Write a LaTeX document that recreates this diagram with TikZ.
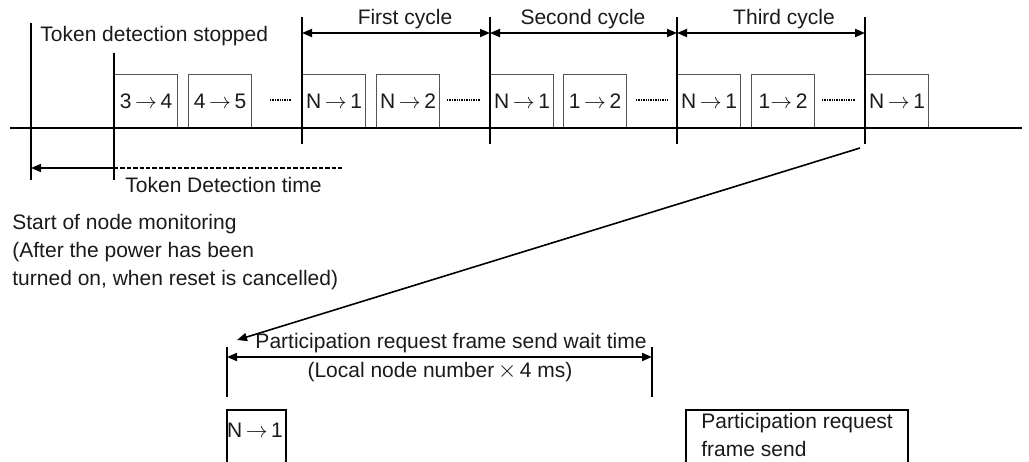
\documentclass[tikz,border=0pt]{standalone}
\usepackage{fontspec}
\setmainfont{Liberation Sans}
\usetikzlibrary{arrows.meta,positioning,calc}
\definecolor{ink}{HTML}{1A1A1A}
\definecolor{framegray}{HTML}{555555}
\tikzset{
  slotbox/.style={draw=framegray,line width=0.6pt,
                  minimum width=31.5pt,minimum height=26.5pt,
                  inner sep=0pt,anchor=south west,
                  font=\fontsize{10.5}{12}\selectfont,text=ink},
  tickline/.style={line width=1pt,draw=black},
  dimarr/.style={{Triangle[length=5pt,width=4pt]}-{Triangle[length=5pt,width=4pt]},line width=0.9pt},
  onearr/.style={-{Triangle[length=5pt,width=4pt]},line width=0.8pt},
  gapdots/.style={line width=0.7pt,dash pattern=on 0.7pt off 0.5pt},
  lbl/.style={font=\fontsize{10.5}{14}\selectfont,text=ink,inner sep=0pt}
}

\begin{document}
\begin{tikzpicture}[x=0.5pt,y=-0.5pt]
  \useasboundingbox (0,0) rectangle (1029,461);
  \clip (0,0) rectangle (1029,461);
  % ---- token frames on the line ----
  \foreach \px/\txt/\nm in {114/{3\,$\rightarrow$\,4}/b1, 188/{4\,$\rightarrow$\,5}/b2,
                            302/{N\,$\rightarrow$\,1}/b3, 376/{N\,$\rightarrow$\,2}/b4,
                            490/{N\,$\rightarrow$\,1}/b5, 563/{1\,$\rightarrow$\,2}/b6,
                            677/{N\,$\rightarrow$\,1}/b7, 751/{1$\rightarrow$\,2}/b8,
                            865/{N\,$\rightarrow$\,1}/b9}
    \node[slotbox] (\nm) at (\px,128) {\txt};
  \draw[tickline] (10,128) -- (1022,128);
  % ---- frames left out ----
  \foreach \ax/\bx in {270/291, 447/480, 636/668, 822/855}
    \draw[gapdots] (\ax,100) -- (\bx,100);
  % ---- time marks ----
  \draw[tickline] (31,23) -- (31,180);
  \draw[tickline] (114,53) -- (114,180);
  \foreach \tx in {302,490,677,865}
    \draw[tickline] (\tx,17) -- (\tx,144);
  \node[lbl,anchor=west] (stop) at (40,36) {Token detection stopped};
  % ---- cycles ----
  \coordinate (c0) at (302,33);
  \coordinate (c1) at (490,33);
  \coordinate (c2) at (677,33);
  \coordinate (c3) at (865,33);
  \draw[dimarr] (c0) -- (c1);
  \draw[dimarr] (c1) -- (c2);
  \draw[dimarr] (c2) -- (c3);
  \node[lbl] (cyc1) at (405,19) {First cycle};
  \node[lbl] (cyc2) at (583,19) {Second cycle};
  \node[lbl] (cyc3) at (784,19) {Third cycle};
  % ---- token detection time ----
  \coordinate (tdA) at (31,168);
  \coordinate (tdB) at (114,168);
  \coordinate (tdC) at (344,168);
  \draw[onearr] (tdB) -- (tdA);
  \draw[line width=0.8pt,dash pattern=on 2.2pt off 1pt] (tdB) -- (tdC);
  \node[lbl,anchor=west] (tdlbl) at (125,185) {Token Detection time};
  \node[lbl,anchor=north west,align=left] (monitor) at (12,214)
    {Start of node monitoring\\(After the power has been\\turned on, when reset is cancelled)};
  % ---- wait time after the last frame ----
  \coordinate (diagS) at (860,148);
  \coordinate (w0) at (227,357);
  \coordinate (w1) at (652,357);
  \draw[onearr] (diagS) -- (237,340);
  \draw[tickline] (227,347) -- (227,397);
  \draw[tickline] (652,347) -- (652,397);
  \draw[dimarr] (w0) -- (w1);
  \node[lbl] (waitlbl) at (451,343) {Participation request frame send wait time};
  \node[lbl] (waitval) at (440,372) {(Local node number\,{\large$\times$}\,4 ms)};
  % ---- frames below ----
  \draw[line width=0.6pt] (227,410) rectangle (286,490);
  \node[lbl] (nlow) at (255,430) {N\,$\rightarrow$\,1};
  \draw[line width=0.6pt] (686,410) rectangle (908,490);
  \node[lbl,anchor=north west,align=left] (sendlbl) at (701,413)
    {Participation request\\frame send};
\end{tikzpicture}
\end{document}
